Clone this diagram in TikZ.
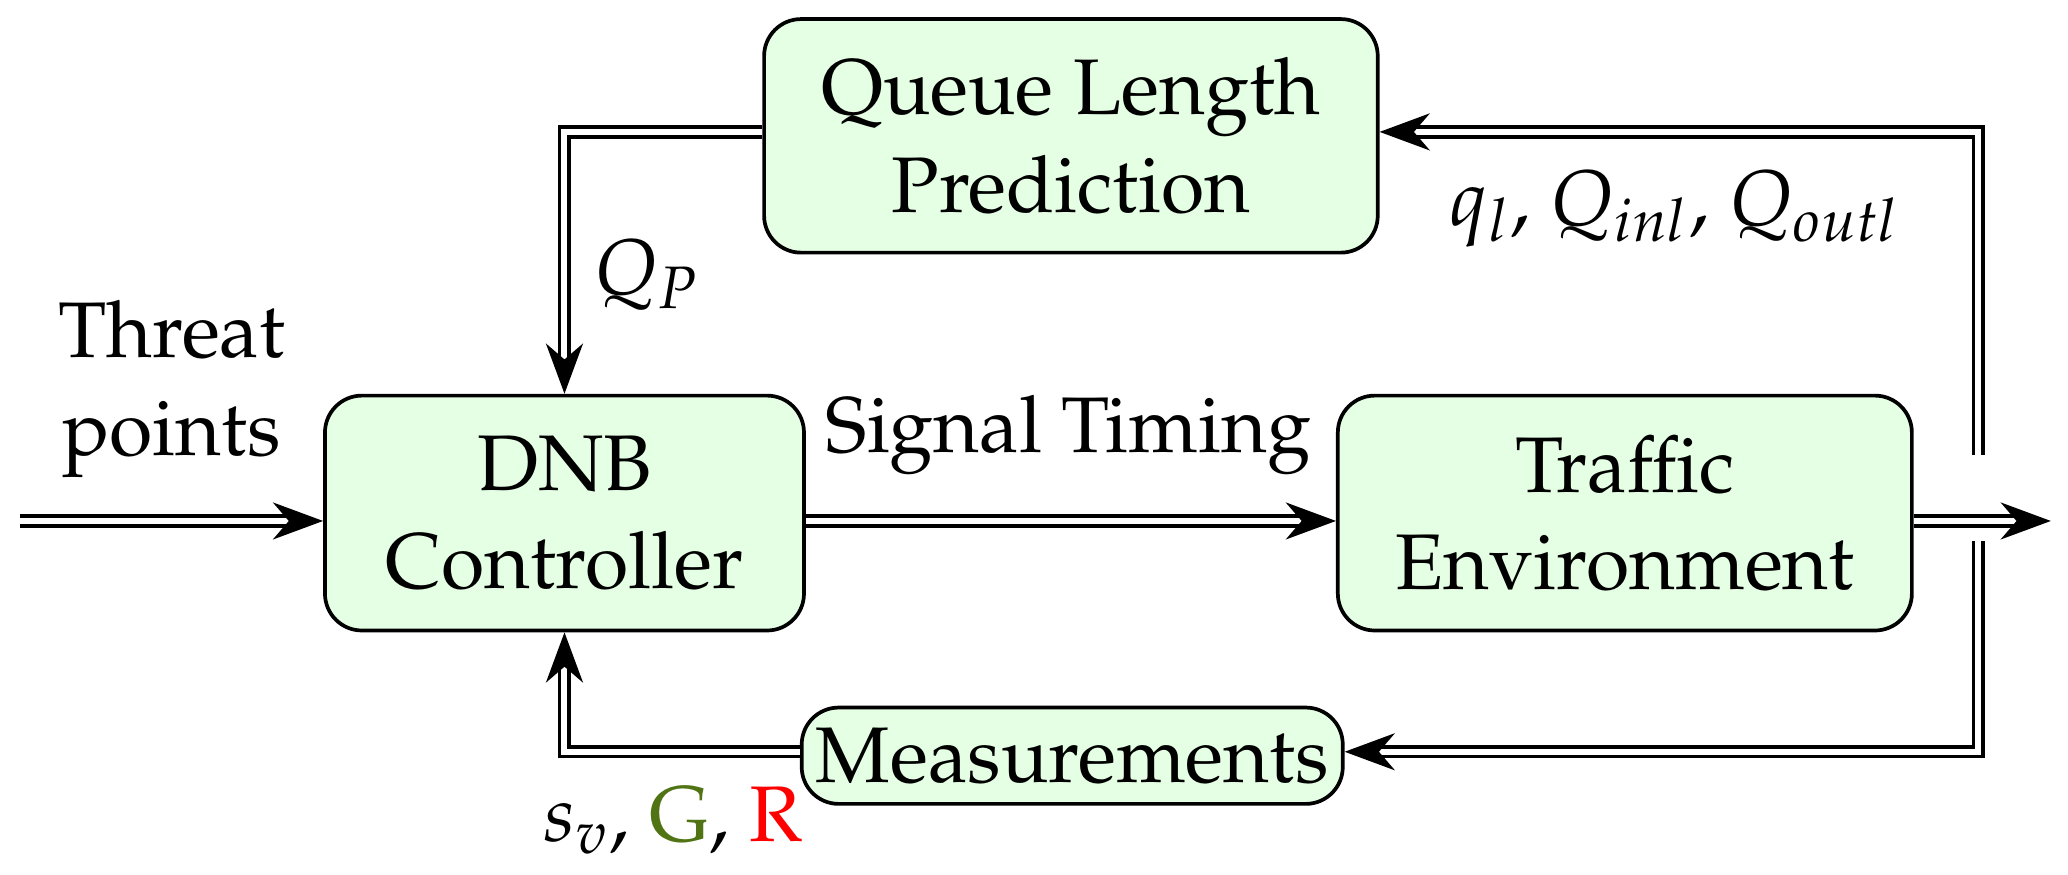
\documentclass[tikz,border=0pt]{standalone}
\usepackage[T1]{fontenc}
\usepackage{mathpazo}
\usetikzlibrary{arrows.meta}
\definecolor{olv}{RGB}{80,115,20}
\begin{document}
\begin{tikzpicture}[x=0.01cm,y=-0.01cm,
  box/.style={draw,thick,fill=green!10,rounded corners=0.28cm,align=center,font=\fontsize{17}{21}\selectfont,inner sep=0pt},
  dl/.style={double,double distance=1.3pt,thick},
  arr/.style={dl,-{Stealth[length=0.38cm,width=0.28cm,inset=0.12cm]}},
  lab/.style={font=\fontsize{17}{21}\selectfont,align=center}]
\useasboundingbox (0,0) rectangle (1568,663);
\node[box,minimum width=4.65cm,minimum height=1.77cm] (qlp) at (812,103) {Queue Length\\Prediction};
\node[box,minimum width=3.63cm,minimum height=1.78cm] (dnb) at (428,389) {DNB\\Controller};
\node[box,minimum width=4.35cm,minimum height=1.78cm] (te) at (1232,389) {Traffic\\Environment};
\node[box,minimum width=4.1cm,minimum height=0.73cm] (me) at (813,573) {Measurements};
\coordinate (in) at (15,395);
\coordinate (out) at (1555,395);
\coordinate (fb) at (1500,345);
\coordinate (fb2) at (1500,410);
\draw[arr] (in) -- (dnb.west|-in);
\draw[arr] (dnb.east|-in) -- (te.west|-in);
\draw[arr] (te.east|-in) -- (out);
\draw[arr] (fb) -- (1500,100) -- (qlp.east|-0,100);
\draw[arr] (fb2) -- (1500,570) -- (me.east|-0,570);
\draw[arr] (qlp.west|-0,100) -- (428,100) -- (dnb.north);
\draw[arr] (me.west|-0,570) -- (428,570) -- (dnb.south);
\node[lab] (tp) at (130,295) {Threat\\points};
\node[lab] (st) at (810,330) {Signal Timing};
\node[lab] (qp) at (490,208) {$Q_P$};
\node[lab] (qq) at (1270,158) {$q_l$, $Q_{inl}$, $Q_{outl}$};
\node[lab] (sv) at (510,622) {$s_v$, \textcolor{olv}{G}, \textcolor{red}{R}};
\end{tikzpicture}
\end{document}
